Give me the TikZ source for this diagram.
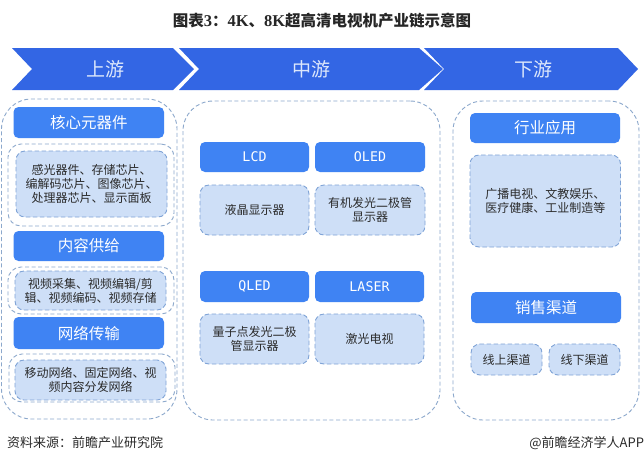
\documentclass[tikz,border=0pt]{standalone}
\usepackage{fontspec}
\setmainfont{Noto Sans CJK SC}
\newfontfamily\titlelatin{Liberation Serif}[BoldFont={Liberation Serif Bold}]
\newfontfamily\monolatin{DejaVu Sans Mono}
\newcommand{\bx}[7]{%
  \pgfmathsetmacro{\bw}{#5-#3}\pgfmathsetmacro{\bh}{#6-#4}%
  \pgfmathsetmacro{\bcx}{(#3+#5)/2}\pgfmathsetmacro{\bcy}{(#4+#6)/2}%
  \node[#1,minimum width=\bw pt,minimum height=\bh pt] (#2) at (\bcx,\bcy) {#7};}
\definecolor{chev}{HTML}{3366E4}
\definecolor{head}{HTML}{3F83F3}
\definecolor{sub}{HTML}{CEDFF7}
\definecolor{subline}{HTML}{7FA3D6}
\definecolor{outline}{HTML}{8CA8CC}
\definecolor{chevtext}{HTML}{DCE7FB}
\definecolor{bodytext}{HTML}{2B2B2B}
\tikzset{
  x=1pt,y=-1pt,
  base/.style={rectangle,inner sep=0pt,outer sep=0pt,align=center},
  bigdash/.style={base,draw=outline,line width=0.9pt,rounded corners=30pt,dash pattern=on 4pt off 2.6pt},
  outerdash/.style={base,draw=outline,line width=0.9pt,rounded corners=13pt,dash pattern=on 4pt off 2.6pt},
  headbox/.style={base,fill=head,rounded corners=5pt,text=white,font=\fontsize{15.5}{18}\selectfont},
  monohead/.style={base,fill=head,rounded corners=5pt,text=white,font=\monolatin\fontsize{13.3}{16}\selectfont},
  subbox/.style={base,fill=sub,draw=subline,line width=0.9pt,rounded corners=9pt,dash pattern=on 4.5pt off 2.5pt,text=bodytext,font=\fontsize{12}{14}\selectfont},
  chevron/.style={fill=chev,draw=none},
  chevlabel/.style={base,text=chevtext,font=\fontsize{19}{22}\selectfont},
  foot/.style={base,text=bodytext,font=\fontsize{13}{16}\selectfont},
}
\begin{document}
\begin{tikzpicture}
\useasboundingbox (0,0) rectangle (644,464);
\fill[white] (0,0) rectangle (644,464);
% title
\node[base,font=\bfseries\fontsize{15.5}{18}\selectfont,text=black!85] (title) at (322,21) {图表{\titlelatin\bfseries\fontsize{16.5}{18}\selectfont 3}：{\titlelatin\bfseries\fontsize{16.5}{18}\selectfont 4K}、{\titlelatin\bfseries\fontsize{16.5}{18}\selectfont 8K}超高清电视机产业链示意图};
% chevrons
\fill[chevron] (12,48) -- (173,48) -- (194,69) -- (173,90) -- (12,90) -- (32,69) -- cycle;
\fill[chevron] (179,48) -- (419,48) -- (443,69) -- (419,90) -- (179,90) -- (199,69) -- cycle;
\fill[chevron] (424,48) -- (618,48) -- (638,69) -- (618,90) -- (424,90) -- (444,69) -- cycle;
\node[chevlabel] (up) at (105,69) {上游};
\node[chevlabel] (mid) at (311,69) {中游};
\node[chevlabel] (down) at (533,69) {下游};
% containers
\bx{bigdash}{cL}{1.5}{99}{177}{419}{}
\bx{bigdash}{cM}{183}{101}{440}{420}{}
\bx{bigdash}{cR}{453}{101}{639}{420}{}
% left column
\bx{headbox}{h1}{13.5}{107}{164}{138}{核心元器件}
\bx{outerdash}{o1}{8}{144}{174}{226}{}
\bx{subbox}{s1}{16}{151}{167}{217}{感光器件、存储芯片、\\编解码芯片、图像芯片、\\处理器芯片、显示面板}
\bx{headbox}{h2}{13.5}{231}{164}{261}{内容供给}
\bx{outerdash}{o2}{8}{267}{174}{314}{}
\bx{subbox}{s2}{15}{271}{166}{310}{视频采集、视频编辑/剪\\辑、视频编码、视频存储}
\bx{headbox}{h3}{13.5}{317}{164}{349}{网络传输}
\bx{outerdash}{o3}{9}{354}{175}{402}{}
\bx{subbox}{s3}{15}{360}{166}{400}{移动网络、固定网络、视\\频内容分发网络}
% middle column
\bx{monohead}{lcd}{200}{142}{309}{172}{LCD}
\bx{monohead}{oled}{315}{142}{425}{172}{OLED}
\bx{subbox}{lcdS}{200}{185}{309}{235}{液晶显示器}
\bx{subbox}{oledS}{315}{185}{425}{235}{有机发光二极管\\显示器}
\bx{monohead}{qled}{200}{271}{309}{302}{QLED}
\bx{monohead}{laser}{315}{271}{424}{302}{LASER}
\bx{subbox}{qledS}{200}{314}{309}{364}{量子点发光二极\\管显示器}
\bx{subbox}{laserS}{315}{314}{424}{364}{激光电视}
% right column
\bx{headbox}{app}{470}{113}{620}{143}{行业应用}
\bx{subbox}{appS}{470}{155}{620.5}{247}{广播电视、文教娱乐、\\医疗健康、工业制造等}
\bx{headbox}{sale}{471}{292}{621}{323}{销售渠道}
\bx{subbox}{on}{471}{344}{542}{375}{线上渠道}
\bx{subbox}{off}{549}{344}{620}{375}{线下渠道}
% footer
\node[foot,anchor=west] (src) at (7,443) {资料来源：前瞻产业研究院};
\node[foot,anchor=east] (brand) at (644,443) {@前瞻经济学人APP};
\end{tikzpicture}
\end{document}
